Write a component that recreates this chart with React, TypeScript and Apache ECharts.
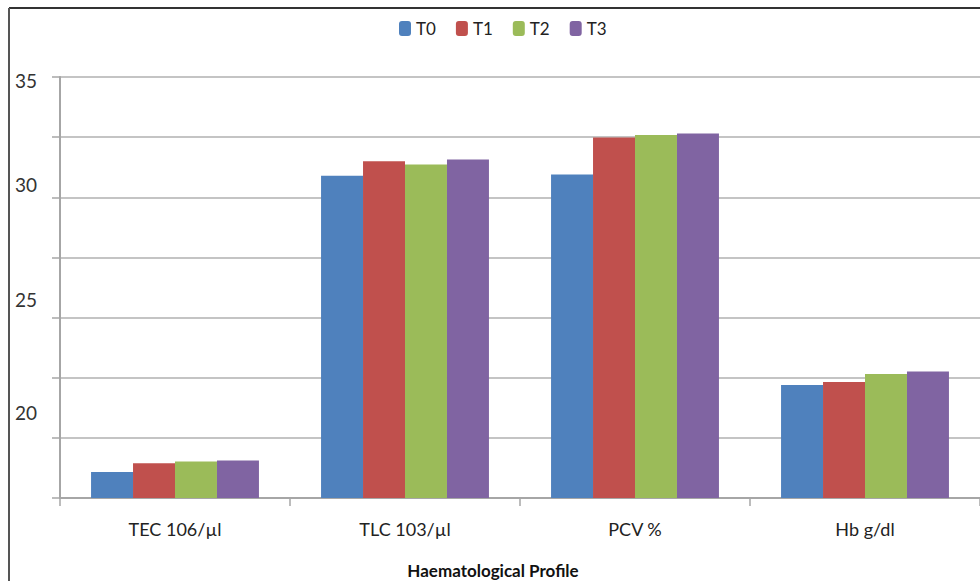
import React, { useEffect, useRef } from "react";
import * as echarts from "echarts";

const categories = ["TEC 106/µl", "TLC 103/µl", "PCV %", "Hb g/dl"];
const seriesNames = ["T0", "T1", "T2", "T3"];
const t0 = [18.58, 30.9, 30.95, 22.2];
const t1 = [18.94, 31.5, 32.48, 22.32];
const t2 = [19.02, 31.36, 32.59, 22.65];
const t3 = [19.06, 31.57, 32.65, 22.76];
const colors = ["#4F81BD", "#C0504D", "#9BBB59", "#8064A2"];
const yLabels = [20, 25, 30, 35];
const xTitle = "Haematological Profile";

export default function App() {
  const ref = useRef<HTMLDivElement>(null);
  useEffect(() => {
    if (!ref.current) return;
    const chart = echarts.init(ref.current, null, { renderer: "svg" });
    const values = [t0, t1, t2, t3];
    const font = "Lato, 'Noto Sans', sans-serif";
    chart.setOption({
      animation: false,
      backgroundColor: "#ffffff",
      textStyle: { fontFamily: font },
      legend: {
        data: seriesNames,
        left: 394,
        top: 15,
        itemWidth: 12,
        itemHeight: 15,
        itemGap: 20,
        textStyle: { fontFamily: font, fontSize: 17, color: "#222" },
      },
      grid: { left: 60, right: 0, top: 77, bottom: 83, containLabel: false },
      xAxis: {
        type: "category",
        data: categories,
        axisLine: { show: true, lineStyle: { color: "#a6a6a6", width: 2 } },
        axisTick: { show: true, length: 8, alignWithLabel: false, lineStyle: { color: "#a6a6a6", width: 1.5 } },
        axisLabel: { fontFamily: font, fontSize: 18, color: "#222", margin: 22 },
        splitLine: { show: false },
      },
      yAxis: {
        type: "value",
        min: 17.5,
        max: 35,
        interval: 2.5,
        axisLine: { show: true, lineStyle: { color: "#a6a6a6", width: 2 } },
        axisTick: { show: true, length: 8, inside: false, lineStyle: { color: "#a6a6a6", width: 1.5 } },
        splitLine: { show: true, lineStyle: { color: "#c4c4c4", width: 2 } },
        axisLabel: {
          margin: 23,
          fontFamily: font,
          fontSize: 19,
          color: "#333",
          formatter: (v: number) => (yLabels.includes(v) ? `{r${v}|${v}}` : ""),
          rich: {
            r35: { fontFamily: font, fontSize: 19, color: "#333", padding: [6, 0, 0, 0] },
            r30: { fontFamily: font, fontSize: 19, color: "#333", padding: [0, 0, 25, 0] },
            r25: { fontFamily: font, fontSize: 19, color: "#333", padding: [0, 0, 36, 0] },
            r20: { fontFamily: font, fontSize: 19, color: "#333", padding: [0, 0, 50, 0] },
          },
        },
      },
      series: seriesNames.map((name, i) => ({
        name,
        type: "bar",
        data: values[i],
        barGap: "0%",
        barCategoryGap: "27%",
        itemStyle: { color: colors[i] },
      })),
      graphic: [
        {
          type: "line",
          shape: { x1: 9, y1: 8, x2: 980, y2: 8 },
          style: { stroke: "#333", lineWidth: 2 },
        },
        {
          type: "line",
          shape: { x1: 9, y1: 8, x2: 9, y2: 581 },
          style: { stroke: "#555", lineWidth: 2 },
        },
        {
          type: "text",
          x: 493,
          y: 570,
          style: {
            text: xTitle,
            fontFamily: font,
            fontSize: 17,
            fontWeight: "bold",
            fill: "#111",
            align: "center",
            verticalAlign: "middle",
          },
        },
      ],
    });
    return () => chart.dispose();
  }, []);
  return (
    <div
      ref={ref}
      style={{ position: "fixed", left: 0, top: 0, width: 980, height: 581 }}
    />
  );
}
